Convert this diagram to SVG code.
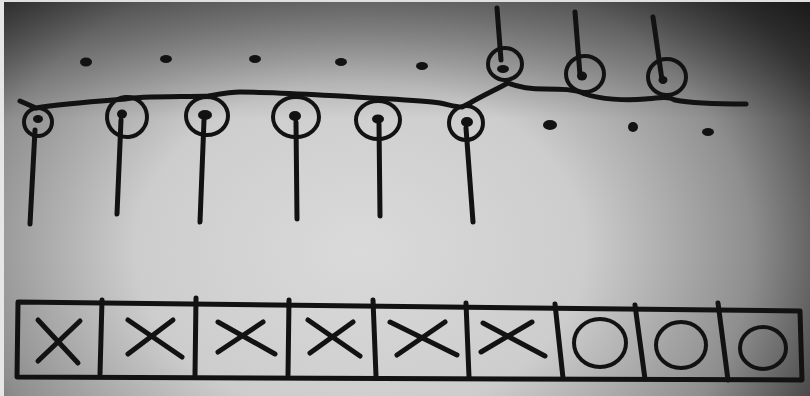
<svg xmlns="http://www.w3.org/2000/svg" width="810" height="396" viewBox="0 0 810 396">
<defs>
<radialGradient id="bg" gradientUnits="userSpaceOnUse" cx="360" cy="250" r="560" gradientTransform="translate(360 250) scale(1 0.75) translate(-360 -250)">
<stop offset="0" stop-color="#dadada"/>
<stop offset="0.4" stop-color="#cdcdcd"/>
<stop offset="0.7" stop-color="#8e8e8e"/>
<stop offset="0.9" stop-color="#404040"/>
<stop offset="1" stop-color="#2a2a2a"/>
</radialGradient>
<linearGradient id="shade" x1="0" y1="0" x2="0" y2="1">
<stop offset="0" stop-color="#000" stop-opacity="0.4"/>
<stop offset="0.3" stop-color="#000" stop-opacity="0"/>
<stop offset="1" stop-color="#000" stop-opacity="0"/>
</linearGradient>
</defs>
<style>
.ink{fill:none;stroke:#121212;stroke-width:5;stroke-linecap:round;stroke-linejoin:round}
.ring{fill:none;stroke:#121212;stroke-width:4}
.dot{fill:#121212}
</style>
<rect width="810" height="396" fill="url(#bg)"/>
<rect width="810" height="396" fill="url(#shade)"/>
<rect x="0" y="0" width="4" height="396" fill="#e6e6e6"/>
<rect x="0" y="0" width="810" height="2" fill="#e0e0e0"/>

<g id="dots">
<ellipse class="dot" cx="86" cy="62" rx="6" ry="4.5"/>
<ellipse class="dot" cx="166" cy="59" rx="6" ry="4"/>
<ellipse class="dot" cx="255" cy="59" rx="6" ry="4"/>
<ellipse class="dot" cx="341" cy="62" rx="6" ry="4"/>
<ellipse class="dot" cx="422" cy="66" rx="6" ry="4"/>
<ellipse class="dot" cx="550" cy="125" rx="7" ry="5"/>
<ellipse class="dot" cx="633" cy="127" rx="5" ry="5"/>
<ellipse class="dot" cx="708" cy="132" rx="6" ry="4"/>
</g>

<g id="connectors">
<path class="ink" d="M20 101 L36 108 C60 104 100 101 125 99 C140 96 190 97 208 96 C220 94 230 92 240 92 C270 92 300 94 340 96 C380 99 420 100 440 103 C450 105 456 107 462 107 L470 103 C480 97 495 90 508 83 C516 86 526 89 545 89 C560 89 575 89 585 94 C600 99 625 101 645 99 C658 98 668 96 675 100 C690 103 720 104 746 104"/>
</g>

<g id="knot-1"><circle class="ring" cx="38" cy="122" r="14"/><ellipse class="dot" cx="38" cy="119" rx="5" ry="4"/><path class="ink" d="M35 130 L30 224"/></g>
<g id="knot-2"><circle class="ring" cx="127" cy="117" r="20" transform="rotate(-5 127 117)"/><ellipse class="dot" cx="122" cy="114" rx="5" ry="4.5"/><path class="ink" d="M121 120 L117 214"/></g>
<g id="knot-3"><ellipse class="ring" cx="207" cy="116" rx="21" ry="19"/><ellipse class="dot" cx="205" cy="115" rx="7" ry="5"/><path class="ink" d="M204 120 L200 222"/></g>
<g id="knot-4"><ellipse class="ring" cx="296" cy="117" rx="23" ry="20"/><ellipse class="dot" cx="295" cy="116" rx="6" ry="5"/><path class="ink" d="M296 122 L297 219"/></g>
<g id="knot-5"><ellipse class="ring" cx="378" cy="120" rx="22" ry="19"/><ellipse class="dot" cx="378" cy="119" rx="6" ry="4.5"/><path class="ink" d="M379 124 L380 216"/></g>
<g id="knot-6"><circle class="ring" cx="466" cy="123" r="17"/><ellipse class="dot" cx="467" cy="122" rx="6" ry="5"/><path class="ink" d="M466 128 L473 222"/></g>
<g id="knot-7"><ellipse class="ring" cx="505" cy="64" rx="17" ry="16"/><ellipse class="dot" cx="503" cy="69" rx="6" ry="4"/><path class="ink" d="M497 8 L501 60"/></g>
<g id="knot-8"><ellipse class="ring" cx="585" cy="74" rx="19" ry="18"/><ellipse class="dot" cx="582" cy="76" rx="5" ry="4.5"/><path class="ink" d="M575 12 L580 75"/></g>
<g id="knot-9"><ellipse class="ring" cx="667" cy="77" rx="19" ry="18"/><ellipse class="dot" cx="663" cy="80" rx="4.5" ry="4"/><path class="ink" d="M653 17 L662 80"/></g>

<g id="boxes">
<path class="ink" d="M18 302 L800 311 L802 380 L17 377 Z"/>
<path class="ink" d="M102 300 L100 374"/>
<path class="ink" d="M196 298 L195 375"/>
<path class="ink" d="M289 300 L288 375"/>
<path class="ink" d="M373 300 L376 376"/>
<path class="ink" d="M466 303 L469 377"/>
<path class="ink" d="M555 304 L563 378"/>
<path class="ink" d="M635 305 L645 379"/>
<path class="ink" d="M718 303 L728 380"/>
</g>

<g id="marks">
<path class="ink" d="M38 320 L78 363 M80 321 L38 361"/>
<path class="ink" d="M128 320 L182 357 M173 320 L128 354"/>
<path class="ink" d="M218 322 L275 354 M263 322 L218 352"/>
<path class="ink" d="M308 320 L360 356 M353 322 L310 353"/>
<path class="ink" d="M390 322 L457 355 M445 322 L397 355"/>
<path class="ink" d="M483 323 L545 356 M532 322 L481 352"/>
<ellipse class="ring" cx="600" cy="343" rx="26" ry="24"/>
<ellipse class="ring" cx="681" cy="345" rx="25" ry="23"/>
<ellipse class="ring" cx="763" cy="348" rx="23" ry="21"/>
</g>
</svg>
